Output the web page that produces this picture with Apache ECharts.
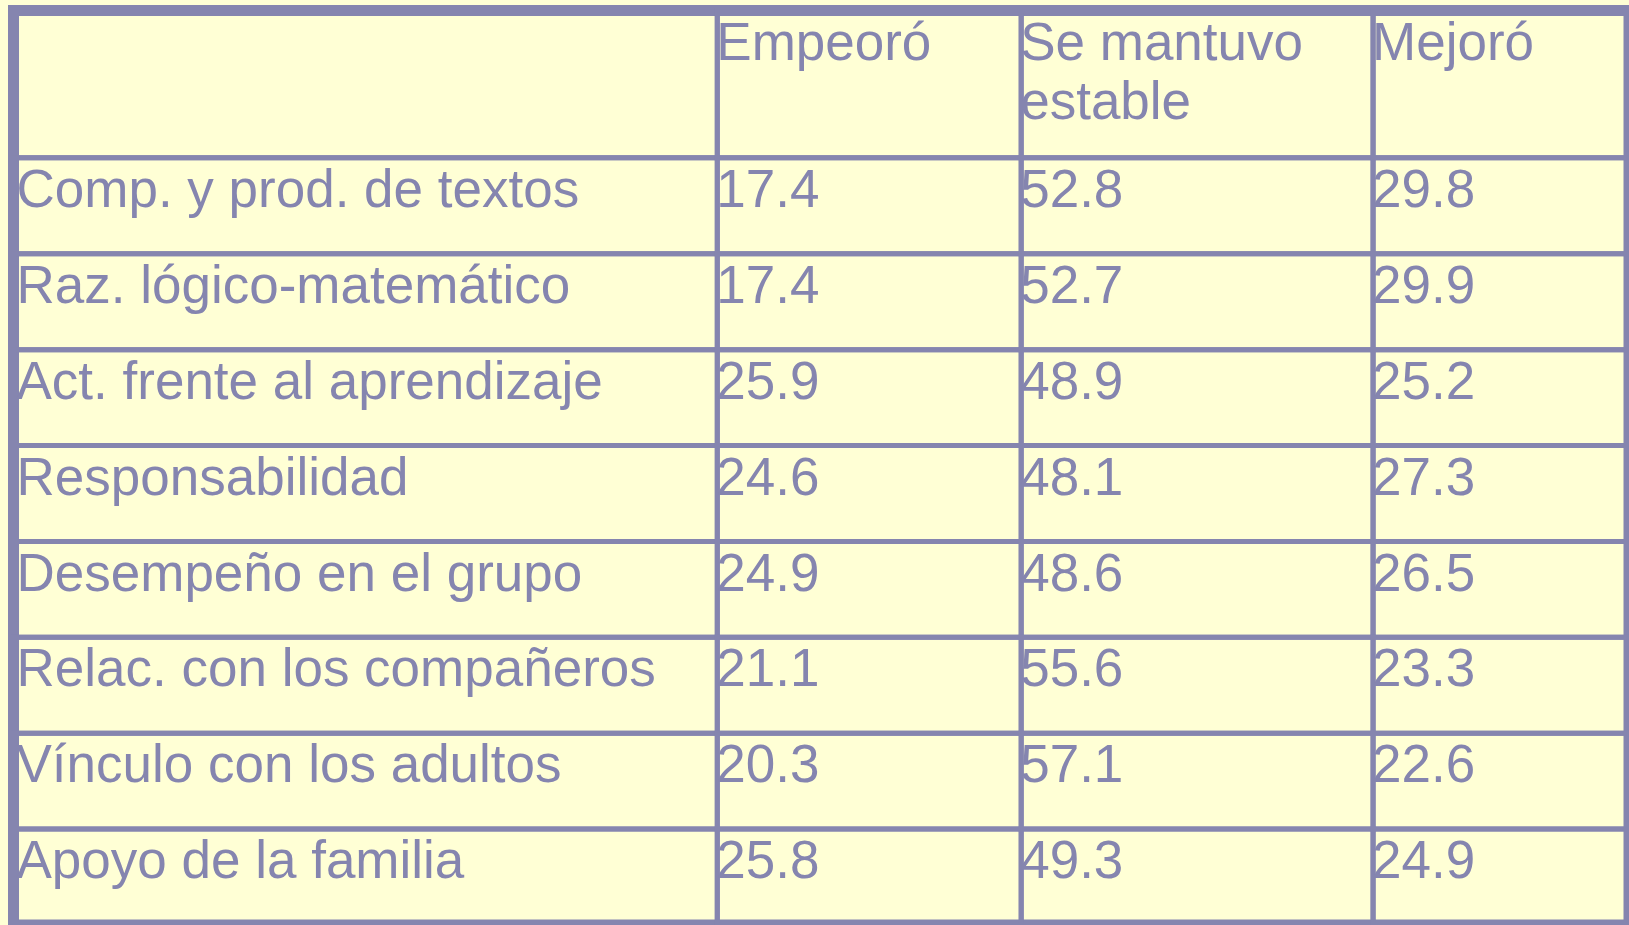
<!DOCTYPE html>
<html>
<head>
<meta charset="utf-8">
<script src="https://cdn.jsdelivr.net/npm/echarts@6/dist/echarts.min.js"></script>
<style>
html,body{margin:0;padding:0;background:#FFFFD5;}
#main{width:1629px;height:925px;}
</style>
</head>
<body>
<div id="main"></div>
<script>
// ---- data ----
var headers = ['', 'Empeoró', 'Se mantuvo\nestable', 'Mejoró'];
var categories = [
  'Comp. y prod. de textos',
  'Raz. lógico-matemático',
  'Act. frente al aprendizaje',
  'Responsabilidad',
  'Desempeño en el grupo',
  'Relac. con los compañeros',
  'Vínculo con los adultos',
  'Apoyo de la familia'
];
var empeoro = [17.4, 17.4, 25.9, 24.6, 24.9, 21.1, 20.3, 25.8];
var estable = [52.8, 52.7, 48.9, 48.1, 48.6, 55.6, 57.1, 49.3];
var mejoro  = [29.8, 29.9, 25.2, 27.3, 26.5, 23.3, 22.6, 24.9];

// ---- layout (table geometry) ----
var colWidths = [704, 304, 352, 256];
var headerHeight = 147.5;
var rowHeight = 96;
var ink = '#8585AF';
var bg = '#FFFFD5';

var rowHeights = [headerHeight];
categories.forEach(function () { rowHeights.push(rowHeight); });
function sum(arr, n) { var s = 0; for (var i = 0; i < n; i++) s += arr[i]; return s; }
var totalW = sum(colWidths, colWidths.length);
var totalH = sum(rowHeights, rowHeights.length);

// build cell table
var table = [headers];
categories.forEach(function (c, i) {
  table.push([c, empeoro[i].toFixed(1), estable[i].toFixed(1), mejoro[i].toFixed(1)]);
});
var cells = [];
table.forEach(function (row, r) {
  row.forEach(function (txt, c) { cells.push([c, r]); });
});

var chart = echarts.init(document.getElementById('main'));
chart.setOption({
  backgroundColor: bg,
  animation: false,
  grid: {
    left: 13.5, top: 10.5, width: totalW, height: totalH,
    show: true, borderColor: ink, borderWidth: 11, backgroundColor: 'transparent'
  },
  xAxis: { type: 'value', min: 0, max: totalW, show: false },
  yAxis: { type: 'value', min: 0, max: totalH, inverse: true, show: false },
  series: [{
    type: 'custom',
    coordinateSystem: 'cartesian2d',
    data: cells,
    encode: { x: 0, y: 1 },
    clip: false,
    renderItem: function (params, api) {
      var c = api.value(0), r = api.value(1);
      var x0 = sum(colWidths, c), x1 = x0 + colWidths[c];
      var y0 = sum(rowHeights, r), y1 = y0 + rowHeights[r];
      var p0 = api.coord([x0, y0]);
      var p1 = api.coord([x1, y1]);
      var inset = c === 0 ? 3 : -1;
      return {
        type: 'group',
        children: [{
          type: 'rect',
          shape: { x: p0[0], y: p0[1], width: p1[0] - p0[0], height: p1[1] - p0[1] },
          style: { fill: 'none', stroke: ink, lineWidth: 5 }
        }, {
          type: 'text',
          z2: 10,
          style: {
            x: p0[0] + inset,
            y: p0[1] + 5,
            text: table[r][c],
            fill: ink,
            font: '53px "Liberation Sans", Arial, sans-serif',
            lineHeight: 59,
            align: 'left',
            verticalAlign: 'top'
          }
        }]
      };
    }
  }]
});
</script>
</body>
</html>
